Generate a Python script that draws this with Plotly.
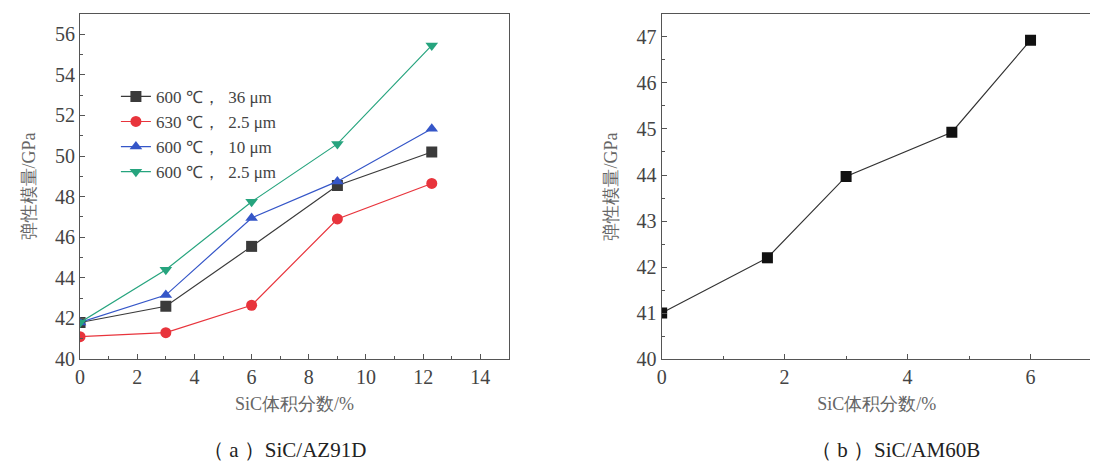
import plotly.graph_objects as go

# panel (a) SiC/AZ91D
sic_a = [0, 3, 6, 9, 12.3]
e_600_36 = [41.8, 42.6, 45.55, 48.55, 50.2]
e_630_25 = [41.1, 41.3, 42.65, 46.9, 48.65]
e_600_10 = [41.8, 43.15, 46.95, 48.75, 51.35]
e_600_25 = [41.8, 44.4, 47.75, 50.6, 55.45]
names_a = ["600 ℃，\u00a0 36 μm", "630 ℃，\u00a0 2.5 μm", "600 ℃，\u00a0 10 μm", "600 ℃，\u00a0 2.5 μm"]
colors_a = ["#3a3a3a", "#e8343c", "#3556c8", "#26a47e"]
symbols_a = ["square", "circle", "triangle-up", "triangle-down"]

# panel (b) SiC/AM60B
sic_b = [0, 1.72, 3, 4.72, 6]
e_b = [41.0, 42.2, 43.97, 44.93, 46.93]

font_main = "'Liberation Serif', serif"

fig = go.Figure()

for ys, name, col, sym in zip([e_600_36, e_630_25, e_600_10, e_600_25], names_a, colors_a, symbols_a):
    fig.add_trace(go.Scatter(
        x=sic_a, y=ys, name=name, mode="lines+markers",
        line=dict(color=col, width=1.2),
        marker=dict(color=col, symbol=sym, size=11),
        xaxis="x", yaxis="y",
    ))

fig.add_trace(go.Scatter(
    x=sic_b, y=e_b, mode="lines+markers", showlegend=False,
    line=dict(color="#333333", width=1.2),
    marker=dict(color="#111111", symbol="square", size=11),
    xaxis="x2", yaxis="y2",
))

axis_common = dict(
    showgrid=False, zeroline=False, showline=True, mirror=True,
    linecolor="#555555", linewidth=1.2, automargin=False,
    ticks="inside", ticklen=5, tickcolor="#555555",
    tickfont=dict(family=font_main, size=20, color="#444444"),
)
title_font = dict(family=font_main, size=18, color="#666666")
minor_ticks = dict(ticks="inside", ticklen=3, tickcolor="#555555")

# page has an 8px body margin, so the figure is 8px smaller than the window
fig.update_layout(
    width=1090, height=457,
    margin=dict(l=0, r=0, t=0, b=0),
    font=dict(family=font_main),
    paper_bgcolor="white", plot_bgcolor="white",
    showlegend=True,
    legend=dict(x=0.099, y=0.845, xanchor="left", yanchor="top",
                bgcolor="rgba(0,0,0,0)", tracegroupgap=0, itemwidth=30,
                font=dict(family=font_main, size=17, color="#444444")),
    xaxis=dict(domain=[0.0661, 0.4596], range=[0, 15], dtick=2,
               minor=dict(dtick=1, **minor_ticks),
               title=dict(text="SiC体积分数/%", font=title_font, standoff=10),
               anchor="y", **axis_common),
    yaxis=dict(domain=[0.2319, 0.9869], range=[40, 57], dtick=2,
               minor=dict(dtick=1, **minor_ticks),
               title=dict(text="弹性模量/GPa", font=title_font, standoff=14),
               anchor="x", **axis_common),
    xaxis2=dict(domain=[0.5997, 0.9945], range=[0, 7], dtick=2,
                minor=dict(dtick=1, **minor_ticks),
                title=dict(text="SiC体积分数/%", font=title_font, standoff=10),
                anchor="y2", **axis_common),
    yaxis2=dict(domain=[0.2319, 0.9869], range=[40, 47.5], dtick=1,
                minor=dict(dtick=0.5, **minor_ticks),
                title=dict(text="弹性模量/GPa", font=title_font, standoff=14),
                anchor="x2", **axis_common),
    annotations=[
        dict(text="（ a ）SiC/AZ91D", x=0.254, y=0.0328, xref="paper", yref="paper",
             xanchor="center", yanchor="middle", showarrow=False,
             font=dict(family=font_main, size=21, color="#222222")),
        dict(text="（ b ）SiC/AM60B", x=0.814, y=0.0328, xref="paper", yref="paper",
             xanchor="center", yanchor="middle", showarrow=False,
             font=dict(family=font_main, size=21, color="#222222")),
    ],
)

fig.write_html("out.html")
